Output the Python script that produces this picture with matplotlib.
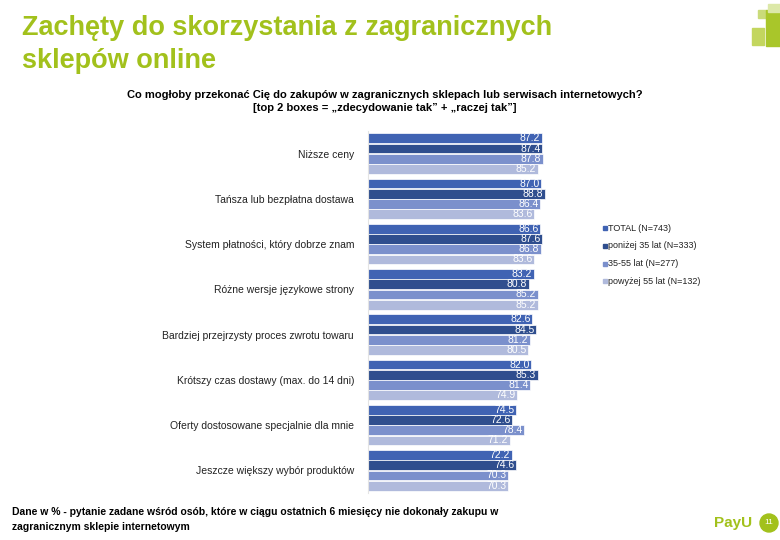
import matplotlib.pyplot as plt
import matplotlib.patches as patches
import numpy as np

# data
categories = ["Niższe ceny", "Tańsza lub bezpłatna dostawa", "System płatności, który dobrze znam",
              "Różne wersje językowe strony", "Bardziej przejrzysty proces zwrotu towaru",
              "Krótszy czas dostawy (max. do 14 dni)", "Oferty dostosowane specjalnie dla mnie",
              "Jeszcze większy wybór produktów"]
total = [87.2, 87.0, 86.6, 83.2, 82.6, 82.0, 74.5, 72.2]
under35 = [87.4, 88.8, 87.6, 80.8, 84.5, 85.3, 72.6, 74.6]
age35_55 = [87.8, 86.4, 86.8, 85.2, 81.2, 81.4, 78.4, 70.3]
over55 = [85.2, 83.6, 83.6, 85.2, 80.5, 74.9, 71.2, 70.3]
series_names = ["TOTAL (N=743)", "poniżej 35 lat (N=333)", "35-55 lat (N=277)", "powyżej 55 lat (N=132)"]
colors = ["#4063B3", "#2F4E8E", "#7B90CC", "#B0BADC"]

plt.rcParams['font.family'] = ['Liberation Sans', 'DejaVu Sans']

fig = plt.figure(figsize=(7.8, 5.4), dpi=100)
ax = fig.add_axes([368/780, 1 - 493/540, 199/780, (493 - 131)/540])

series = [total, under35, age35_55, over55]
n = len(categories)
bar_h = 0.215
offsets = [-1.5, -0.5, 0.5, 1.5]
for s, vals in enumerate(series):
    y = np.arange(n) + offsets[s] * 0.225
    bars = ax.barh(y, vals, height=bar_h, color=colors[s], edgecolor="white", linewidth=0.5)
    for b, v in zip(bars, vals):
        ax.text(v - 0.8, b.get_y() + b.get_height() / 2, f"{v:.1f}", ha="right", va="center",
                fontsize=7.5, color="white")

ax.set_xlim(0, 100)
ax.set_ylim(n - 0.5, -0.5)
ax.set_yticks(np.arange(n))
ax.set_yticklabels(categories, fontsize=7.5, color="#222222")
ax.tick_params(axis="y", length=0, pad=10)
ax.set_xticks([])
for side in ["top", "right", "bottom"]:
    ax.spines[side].set_visible(False)
ax.spines["left"].set_color("#e4e4e4")

# legend
for i, (name, c) in enumerate(zip(series_names, colors)):
    yy = 1 - (228 + i * 17.8) / 540
    fig.patches.append(patches.Rectangle((603/780, yy - 2/540), 4/780, 4/540, transform=fig.transFigure,
                                         color=c))
    fig.text(608/780, yy, name, fontsize=6.5, va="center", ha="left", color="#222222")

# title and texts
green = "#A2C11C"
fig.text(22/780, 1 - 28/540, "Zachęty do skorzystania z zagranicznych", fontsize=19.5, color=green,
         fontweight="bold", va="center", ha="left")
fig.text(22/780, 1 - 61/540, "sklepów online", fontsize=19.5, color=green, fontweight="bold",
         va="center", ha="left")
fig.text(385/780, 1 - 95/540, "Co mogłoby przekonać Cię do zakupów w zagranicznych sklepach lub serwisach internetowych?",
         fontsize=8, fontweight="bold", ha="center", va="center")
fig.text(385/780, 1 - 108/540, "[top 2 boxes = „zdecydowanie tak” + „raczej tak”]",
         fontsize=8, fontweight="bold", ha="center", va="center")
fig.text(12/780, 1 - 512/540, "Dane w % - pytanie zadane wśród osób, które w ciągu ostatnich 6 miesięcy nie dokonały zakupu w",
         fontsize=7.5, fontweight="bold", ha="left", va="center")
fig.text(12/780, 1 - 527/540, "zagranicznym sklepie internetowym",
         fontsize=7.5, fontweight="bold", ha="left", va="center")

# decorative logo squares top right
for (x, y, w, h, c) in [(758, 10, 8, 8, "#CADB7A"), (766, 10, 14, 36, "#A9C62A"),
                        (752, 28, 12, 17, "#C3D65E"), (768, 4, 12, 8, "#DCE8A8")]:
    fig.patches.append(patches.Rectangle((x/780, 1 - (y + h)/540), w/780, h/540,
                                         transform=fig.transFigure, color=c))

# PayU footer
fig.text(714/780, 1 - 523/540, "PayU", fontsize=11, color="#A2C11C", fontweight="bold", va="center", ha="left")
fig.patches.append(patches.Ellipse((769/780, 1 - 523/540), 18/780, 18/540, transform=fig.transFigure,
                                   color="#A2C11C"))
fig.text(769/780, 1 - 523/540, "11", fontsize=6, color="white", ha="center", va="center")

fig.savefig("out.png", dpi=100)
